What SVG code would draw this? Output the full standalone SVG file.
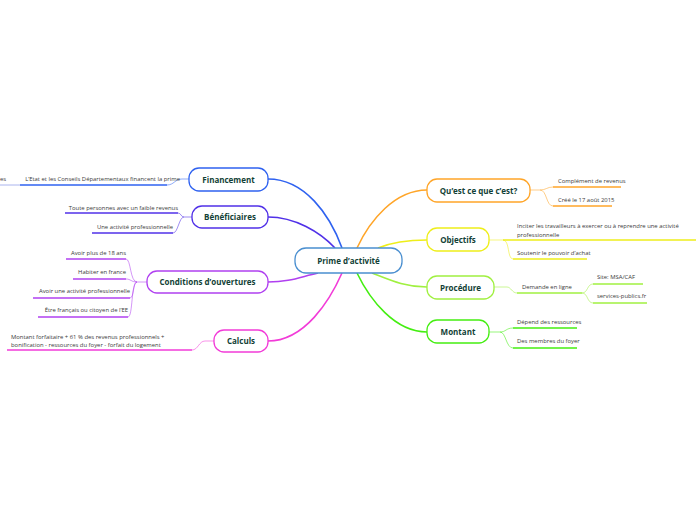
<svg xmlns="http://www.w3.org/2000/svg" width="696" height="520" viewBox="0 0 696 520">
<style>
.node rect{fill:#fff;stroke-width:1.3}
.lbl{font-family:"Open Sans","Noto Sans",sans-serif;font-weight:bold;font-size:8px;fill:#123f36;text-anchor:middle}
.txt{font-family:"Open Sans","Noto Sans",sans-serif;font-size:5.9px;fill:#3a3a3a}
.end{text-anchor:end}
.main{fill:none;stroke-width:1.6}
.sub{fill:none;stroke-width:1;opacity:0.55}
.ul{stroke-width:1.6}
</style>
<rect width="696" height="520" fill="#fff"/>
<g id="connectors">
<path class="main" stroke="#2f62f0" d="M268,179 C305,179 330,215 342,248"/>
<path class="main" stroke="#5030e8" d="M268,217 C295,217 320,232 335,248"/>
<path class="main" stroke="#b040f0" d="M268,282 C290,282 300,277 318,273"/>
<path class="main" stroke="#f23bd8" d="M268,341 C305,341 330,300 342,273"/>
<path class="main" stroke="#ffa528" d="M427,190 C395,190 370,220 357,248"/>
<path class="main" stroke="#eeee1a" d="M427,240 C405,240 390,243 378,248"/>
<path class="main" stroke="#a0f040" d="M427,287 C405,287 390,280 372,273"/>
<path class="main" stroke="#44ee11" d="M427,332 C395,332 370,300 357,273"/>
<path class="sub" stroke="#2f62f0" d="M189,179 L182,179 C175,179 174,185 167,185"/>
<path class="sub" stroke="#5030e8" d="M192,217 L184,217 C181,217 181,213 178,213 M184,217 C179,217 178,233 173,233"/>
<path class="sub" stroke="#b040f0" d="M147,282 L137,282 C130,282 131,259 126,259 M137,282 C131,282 131,279 126,279 M137,282 C133,282 134,298 130,298 M137,282 C131,282 133,317 128,317"/>
<path class="sub" stroke="#f23bd8" d="M214,341 L205,341 C199,341 198,350 192,350"/>
<path class="sub" stroke="#ffa528" d="M530,190 L540,190 C546,190 547,187 553,187 M540,190 C547,190 546,206 553,206"/>
<path class="sub" stroke="#eeee1a" d="M489,240 L503,240 M503,240 C510,240 507,259 513,259"/>
<path class="sub" stroke="#a0f040" d="M494,287 L507,287 C511,287 512,293 517,293 M582,293 C588,293 587,284 593,284 M582,293 C588,293 587,303 593,303"/>
<path class="sub" stroke="#44ee11" d="M489,332 L500,332 C506,332 506,328 513,328 M500,332 C506,332 506,348 513,348"/>
<line x1="0" y1="185" x2="20" y2="185" stroke="#aab4ee" stroke-width="1"/>
</g>
<g id="central" class="node"><rect x="295" y="248" width="107" height="25" rx="11" stroke="#4a8fd0"/><text class="lbl" x="348.5" y="264" font-size="9.5">Prime d’activité</text></g>
<g id="financement" class="node"><rect x="189" y="168" width="79" height="23" rx="10" stroke="#2f62f0"/><text class="lbl" x="228.5" y="182.5">Financement</text></g>
<g id="beneficiaires" class="node"><rect x="192" y="206" width="76" height="22" rx="10" stroke="#5030e8"/><text class="lbl" x="230" y="220">Bénéficiaires</text></g>
<g id="conditions" class="node"><rect x="147" y="271" width="121" height="22" rx="10" stroke="#b040f0"/><text class="lbl" x="207.5" y="285">Conditions d’ouvertures</text></g>
<g id="calculs" class="node"><rect x="214" y="330" width="54" height="22" rx="10" stroke="#f23bd8"/><text class="lbl" x="241" y="344">Calculs</text></g>
<g id="questce" class="node"><rect x="427" y="179" width="103" height="23" rx="10" stroke="#ffa528"/><text class="lbl" x="478.5" y="193.5">Qu’est ce que c’est?</text></g>
<g id="objectifs" class="node"><rect x="427" y="228" width="62" height="23" rx="10" stroke="#eeee1a"/><text class="lbl" x="458" y="242.5">Objectifs</text></g>
<g id="procedure" class="node"><rect x="427" y="276" width="67" height="23" rx="10" stroke="#a0f040"/><text class="lbl" x="460.5" y="290.5">Procédure</text></g>
<g id="montant" class="node"><rect x="427" y="320" width="62" height="23" rx="10" stroke="#44ee11"/><text class="lbl" x="458" y="334.5">Montant</text></g>
<g id="es"><text class="txt end" x="6" y="181">es</text></g>
<g id="etat"><text class="txt end" x="180" y="181">L’Etat et les Conseils Départementaux financent la prime</text><line class="ul" x1="20" y1="185" x2="167" y2="185" stroke="#2f62f0"/></g>
<g id="toute"><text class="txt end" x="178" y="210">Toute personnes avec un faible revenus</text><line class="ul" x1="65" y1="213" x2="178" y2="213" stroke="#5030e8"/></g>
<g id="uneactivite"><text class="txt end" x="173" y="229">Une activité professionnelle</text><line class="ul" x1="92" y1="233" x2="173" y2="233" stroke="#5030e8"/></g>
<g id="avoir18"><text class="txt end" x="126" y="255">Avoir plus de 18 ans</text><line class="ul" x1="66" y1="259" x2="126" y2="259" stroke="#b040f0"/></g>
<g id="habiter"><text class="txt end" x="126" y="274">Habiter en france</text><line class="ul" x1="73" y1="279" x2="126" y2="279" stroke="#b040f0"/></g>
<g id="avoiractivite"><text class="txt end" x="130" y="293">Avoir une activité professionnelle</text><line class="ul" x1="33" y1="298" x2="130" y2="298" stroke="#b040f0"/></g>
<g id="etre"><text class="txt end" x="128" y="312">Être français ou citoyen de l’EE</text><line class="ul" x1="38" y1="317" x2="128" y2="317" stroke="#b040f0"/></g>
<g id="montantforf"><text class="txt" x="11" y="339">Montant forfaitaire + 61 % des revenus professionnels +</text><text class="txt" x="11" y="347">bonification - ressources du foyer - forfait du logement</text><line class="ul" x1="7" y1="350" x2="192" y2="350" stroke="#f23bd8"/></g>
<g id="complement"><text class="txt" x="558" y="183">Complément de revenus</text><line class="ul" x1="553" y1="187" x2="621" y2="187" stroke="#ffa528"/></g>
<g id="cree"><text class="txt" x="558" y="202">Créé le 17 août 2015</text><line class="ul" x1="553" y1="206" x2="612" y2="206" stroke="#ffa528"/></g>
<g id="inciter"><text class="txt" x="517" y="228">Inciter les  travailleurs à exercer ou à reprendre une activité</text><text class="txt" x="517" y="237">professionnelle</text><line class="ul" x1="503" y1="240" x2="696" y2="240" stroke="#eeee1a"/></g>
<g id="soutenir"><text class="txt" x="517" y="255">Soutenir le pouvoir d’achat</text><line class="ul" x1="513" y1="259" x2="587" y2="259" stroke="#eeee1a"/></g>
<g id="demande"><text class="txt" x="522" y="289">Demande en ligne</text><line class="ul" x1="517" y1="293" x2="582" y2="293" stroke="#a0f040"/></g>
<g id="site"><text class="txt" x="597" y="279">Site: MSA/CAF</text><line class="ul" x1="593" y1="284" x2="643" y2="284" stroke="#a0f040"/></g>
<g id="services"><text class="txt" x="597" y="298">services-publics.fr</text><line class="ul" x1="593" y1="303" x2="647" y2="303" stroke="#a0f040"/></g>
<g id="depend"><text class="txt" x="517" y="324">Dépend des ressources</text><line class="ul" x1="513" y1="328" x2="577" y2="328" stroke="#44ee11"/></g>
<g id="membres"><text class="txt" x="517" y="343">Des membres du foyer</text><line class="ul" x1="513" y1="348" x2="577" y2="348" stroke="#44ee11"/></g>
</svg>
